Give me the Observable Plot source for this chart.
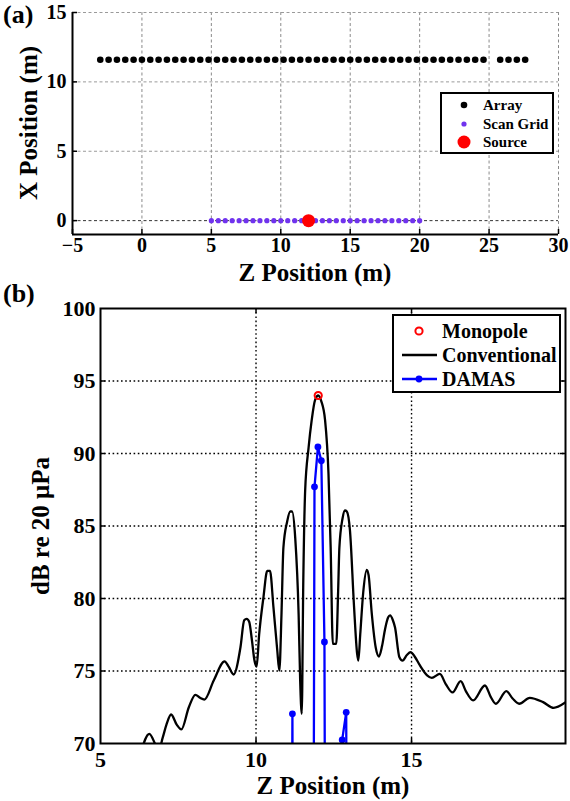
<!DOCTYPE html>
<html><head><meta charset="utf-8">
<script src="https://cdn.jsdelivr.net/npm/d3@7"></script>
<script src="https://cdn.jsdelivr.net/npm/@observablehq/plot@0.6"></script>
<style>
body{margin:0;background:#fff}
#wrap{position:relative;width:570px;height:801px;font-family:"Liberation Serif","Times New Roman",serif;font-weight:bold;color:#000;overflow:hidden}
#wrap svg{position:absolute;left:0}
.t{position:absolute;white-space:nowrap;line-height:1}
.leg{position:absolute;border:2px solid #000;background:#fff;box-sizing:border-box}
.row{position:absolute;display:flex;align-items:center;white-space:nowrap;line-height:1}
</style></head><body><div id="wrap"></div>
<script>
// ---------- data ----------
const arrayZ = [-3.0,-2.4,-1.8,-1.2,-0.6,0,0.6,1.2,1.8,2.4,3.0,3.6,4.2,4.8,5.4,6.0,6.6,7.2,7.8,8.4,9.0,9.6,10.2,10.8,11.4,12.0,12.6,13.2,13.8,14.4,15.0,15.6,16.2,16.8,17.4,18.0,18.6,19.2,19.8,20.4,21.0,21.6,22.2,22.8,23.4,24.0,24.6,25.8,26.4,27.0,27.6];
const arrayX = 11.6;
const scanZ = [5,5.5,6,6.5,7,7.5,8,8.5,9,9.5,10,10.5,11,11.5,12,12.5,13,13.5,14,14.5,15,15.5,16,16.5,17,17.5,18,18.5,19,19.5,20];
const scanX = 0;
const sourceZ = [12];
const sourceX = [0];

const convZ  = [6.30,6.57,6.80,6.88,7.00,7.12,7.27,7.45,7.60,7.84,8.05,8.20,8.34,8.64,8.99,9.12,9.28,9.50,9.62,9.70,9.78,9.87,9.95,10.02,10.10,10.24,10.36,10.45,10.56,10.68,10.75,10.82,10.88,11.00,11.10,11.16,11.26,11.37,11.42,11.47,11.52,11.58,11.69,11.79,11.90,12.00,12.10,12.22,12.33,12.40,12.47,12.58,12.64,12.68,12.78,12.86,12.92,13.02,13.15,13.25,13.29,13.35,13.45,13.56,13.62,13.72,13.85,13.95,14.05,14.15,14.25,14.31,14.40,14.47,14.61,14.71,14.85,14.97,15.10,15.27,15.50,15.65,15.91,16.10,16.32,16.58,16.75,16.98,17.36,17.55,17.71,18.05,18.25,18.46,18.80,19.23,19.57,19.96];
const convDB = [69.4,70.67,69.8,69.6,70.4,71.3,72.0,71.3,70.97,72.5,73.36,73.15,73.03,74.34,75.66,75.3,74.76,76.64,78.5,78.6,78.4,77.1,75.72,75.3,77.5,80.1,81.9,81.9,79.4,76.5,75.03,79.0,83.5,85.3,86.0,86.0,84.2,78.9,74.3,72.05,81.24,87.45,90.4,92.3,93.7,94.0,93.6,92.3,88.6,83.5,76.87,76.87,80.5,83.5,85.5,86.07,86.0,84.7,79.5,76.2,75.72,77.5,80.5,81.98,81.6,79.0,76.6,76.0,76.7,77.9,78.7,78.83,78.5,78.0,75.95,75.72,76.1,76.3,76.0,75.38,74.7,74.53,74.8,74.1,73.52,74.3,73.6,72.97,74.0,73.2,72.74,73.61,73.1,72.74,73.15,72.85,72.46,72.85];

const damasZ  = [11.07,11.17,11.27,11.78,11.88,11.99,12.10,12.20,12.30,12.67,12.77,12.90,13.00];
const damasDB = [0,72.05,0,0,87.7,90.45,89.5,77.0,0,0,70.25,72.15,0];

const monoZ = [12];
const monoDB = [94];

const topXTicks = [-5,0,5,10,15,20,25,30];
const topYTicks = [0,5,10,15];
const botXTicks = [5,10,15];
const botYTicks = [70,75,80,85,90,95,100];
const botXGrid = [10,15];
const botYGrid = [75,80,85,90,95];

// ---------- helpers ----------
const FONT = '"Liberation Serif","Times New Roman",serif';
const fmt = d => d < 0 ? "\u2212" + (-d) : String(d);
const wrap = document.getElementById("wrap");

// ---------- panel (a) ----------
const A = {w: 570, h: 272, ml: 72, mr: 12, mt: 12, mb: 38};
const aFW = A.w - A.ml - A.mr, aFH = A.h - A.mt - A.mb;
const arrayData = arrayZ.map(z => ({z, x: arrayX}));
const scanData = scanZ.map(z => ({z, x: scanX}));
const srcData = sourceZ.map((z, i) => ({z, x: sourceX[i]}));

const plotA = Plot.plot({
  width: A.w, height: A.h,
  marginLeft: A.ml, marginRight: A.mr, marginTop: A.mt, marginBottom: A.mb,
  x: {domain: [-5, 30]},
  y: {domain: [-1, 15]},
  style: {fontFamily: FONT, fontWeight: "bold", fontSize: "20px", background: "transparent", color: "#000", overflow: "visible"},
  marks: [
    Plot.gridX(topXTicks, {stroke: "#8a8a8a", strokeOpacity: 1, strokeDasharray: "3,2.5", strokeWidth: 1}),
    Plot.gridY(topYTicks.filter(d => d !== 0), {stroke: "#9a9a9a", strokeOpacity: 1, strokeDasharray: "3,2.5", strokeWidth: 1}),
    Plot.gridY([0], {stroke: "#333", strokeOpacity: 1, strokeDasharray: "3,2.5", strokeWidth: 1}),
    // inward ticks
    Plot.ruleX(topXTicks, {stroke: "#000", strokeWidth: 1.5, insetTop: aFH - 5}),
    Plot.ruleY(topYTicks, {stroke: "#000", strokeWidth: 1.5, insetRight: aFW - 5}),
    Plot.ruleY([-1], {stroke: "#000", strokeWidth: 2}),
    Plot.ruleX([-5], {stroke: "#000", strokeWidth: 2}),
    Plot.axisX(topXTicks, {tickSize: 0, tickPadding: 3, label: null, tickFormat: fmt, fontSize: 20}),
    Plot.axisY(topYTicks, {tickSize: 0, tickPadding: 6, label: null, tickFormat: fmt, fontSize: 20}),
    Plot.dot(arrayData, {x: "z", y: "x", r: 3.3, fill: "#000", stroke: "none"}),
    Plot.dot(scanData, {x: "z", y: "x", r: 2.6, fill: "#7033ee", stroke: "none"}),
    Plot.dot(srcData, {x: "z", y: "x", r: 6.5, fill: "#ff0000", stroke: "none"})
  ]
});
plotA.style.top = "0px";
wrap.appendChild(plotA);

// ---------- panel (b) ----------
const B = {w: 570, h: 531, ml: 100, mr: 5, mt: 38, mb: 58};
const bFW = B.w - B.ml - B.mr, bFH = B.h - B.mt - B.mb;
const conv = convZ.map((z, i) => ({z, db: convDB[i]}));
const damas = damasZ.map((z, i) => ({z, db: damasDB[i]}));
const mono = monoZ.map((z, i) => ({z, db: monoDB[i]}));

const plotB = Plot.plot({
  width: B.w, height: B.h,
  marginLeft: B.ml, marginRight: B.mr, marginTop: B.mt, marginBottom: B.mb,
  x: {domain: [5, 19.95]},
  y: {domain: [70, 100]},
  style: {fontFamily: FONT, fontWeight: "bold", fontSize: "22px", background: "transparent", color: "#000", overflow: "visible"},
  marks: [
    Plot.gridX(botXGrid, {stroke: "#000", strokeOpacity: 1, strokeDasharray: "1.6,2.6", strokeWidth: 1.4}),
    Plot.gridY(botYGrid, {stroke: "#000", strokeOpacity: 1, strokeDasharray: "1.6,2.6", strokeWidth: 1.4}),
    // inward ticks on all four sides
    Plot.ruleX(botXGrid, {stroke: "#000", strokeWidth: 1.5, insetTop: bFH - 5}),
    Plot.ruleX(botXGrid, {stroke: "#000", strokeWidth: 1.5, insetBottom: bFH - 5}),
    Plot.ruleY(botYGrid, {stroke: "#000", strokeWidth: 1.5, insetRight: bFW - 5}),
    Plot.ruleY(botYGrid, {stroke: "#000", strokeWidth: 1.5, insetLeft: bFW - 5}),
    Plot.axisX(botXTicks, {tickSize: 0, tickPadding: 8, label: null, fontSize: 22}),
    Plot.axisY(botYTicks, {tickSize: 0, tickPadding: 5, label: null, fontSize: 22}),
    Plot.line(conv, {x: "z", y: "db", stroke: "#000", strokeWidth: 2.3, curve: "monotone-x", clip: true}),
    Plot.line(damas, {x: "z", y: "db", stroke: "#0000ff", strokeWidth: 2.3, clip: true}),
    Plot.dot(damas, {x: "z", y: "db", r: 3.4, fill: "#0000ff", stroke: "none", clip: true}),
    Plot.dot(mono, {x: "z", y: "db", r: 3.6, fill: "none", stroke: "#ff0000", strokeWidth: 2}),
    Plot.frame({stroke: "#000", strokeWidth: 2})
  ]
});
plotB.style.top = "270px";
wrap.appendChild(plotB);

// ---------- texts ----------
function addText(txt, left, top, size, opts = {}) {
  const d = document.createElement("div");
  d.className = "t";
  d.textContent = txt;
  d.style.fontSize = size + "px";
  d.style.left = left + "px";
  d.style.top = top + "px";
  if (opts.center) d.style.transform = "translate(-50%,-50%)";
  if (opts.rotate) d.style.transform = "translate(-50%,-50%) rotate(-90deg)";
  wrap.appendChild(d);
  return d;
}
addText("(a)", 3, 2, 26);
addText("(b)", 3, 281, 26);
addText("Z Position (m)", 315, 272, 25, {center: true});
addText("X Position (m)", 28, 123, 25, {rotate: true});
addText("Z Position (m)", 333, 785, 25, {center: true});
addText("dB re 20 \u03bcPa", 40, 526, 25, {rotate: true});

// ---------- legends ----------
function legend(left, top, w, h, items, size) {
  const box = document.createElement("div");
  box.className = "leg";
  Object.assign(box.style, {left: left + "px", top: top + "px", width: w + "px", height: h + "px"});
  items.forEach(it => {
    const r = document.createElement("div");
    r.className = "row";
    r.style.left = it.sx + "px";
    r.style.top = (it.cy - 12) + "px";
    r.style.height = "24px";
    r.style.fontSize = size + "px";
    r.innerHTML = `<svg width="${it.sw}" height="24" style="position:static;flex:none">${it.svg}</svg><span style="margin-left:${it.gap}px">${it.label}</span>`;
    box.appendChild(r);
  });
  wrap.appendChild(box);
}
legend(440, 92, 114, 62, [
  {label: "Array", cy: 11, sx: 10, sw: 24, gap: 7, svg: `<circle cx="12" cy="12" r="3.3" fill="#000"/>`},
  {label: "Scan Grid", cy: 30, sx: 10, sw: 24, gap: 7, svg: `<circle cx="12" cy="12" r="2.6" fill="#7033ee"/>`},
  {label: "Source", cy: 48, sx: 10, sw: 24, gap: 7, svg: `<circle cx="12" cy="12" r="6.5" fill="#ff0000"/>`}
], 15);
legend(392, 314, 169, 79, [
  {label: "Monopole", cy: 15, sx: 6, sw: 38, gap: 4, svg: `<circle cx="19" cy="12" r="3.6" fill="none" stroke="#ff0000" stroke-width="2"/>`},
  {label: "Conventional", cy: 39, sx: 6, sw: 38, gap: 4, svg: `<line x1="2" x2="37" y1="12" y2="12" stroke="#000" stroke-width="2.3"/>`},
  {label: "DAMAS", cy: 63, sx: 6, sw: 38, gap: 4, svg: `<line x1="2" x2="37" y1="12" y2="12" stroke="#0000ff" stroke-width="2.3"/><circle cx="19" cy="12" r="3.4" fill="#0000ff"/>`}
], 20);
</script></body></html>
